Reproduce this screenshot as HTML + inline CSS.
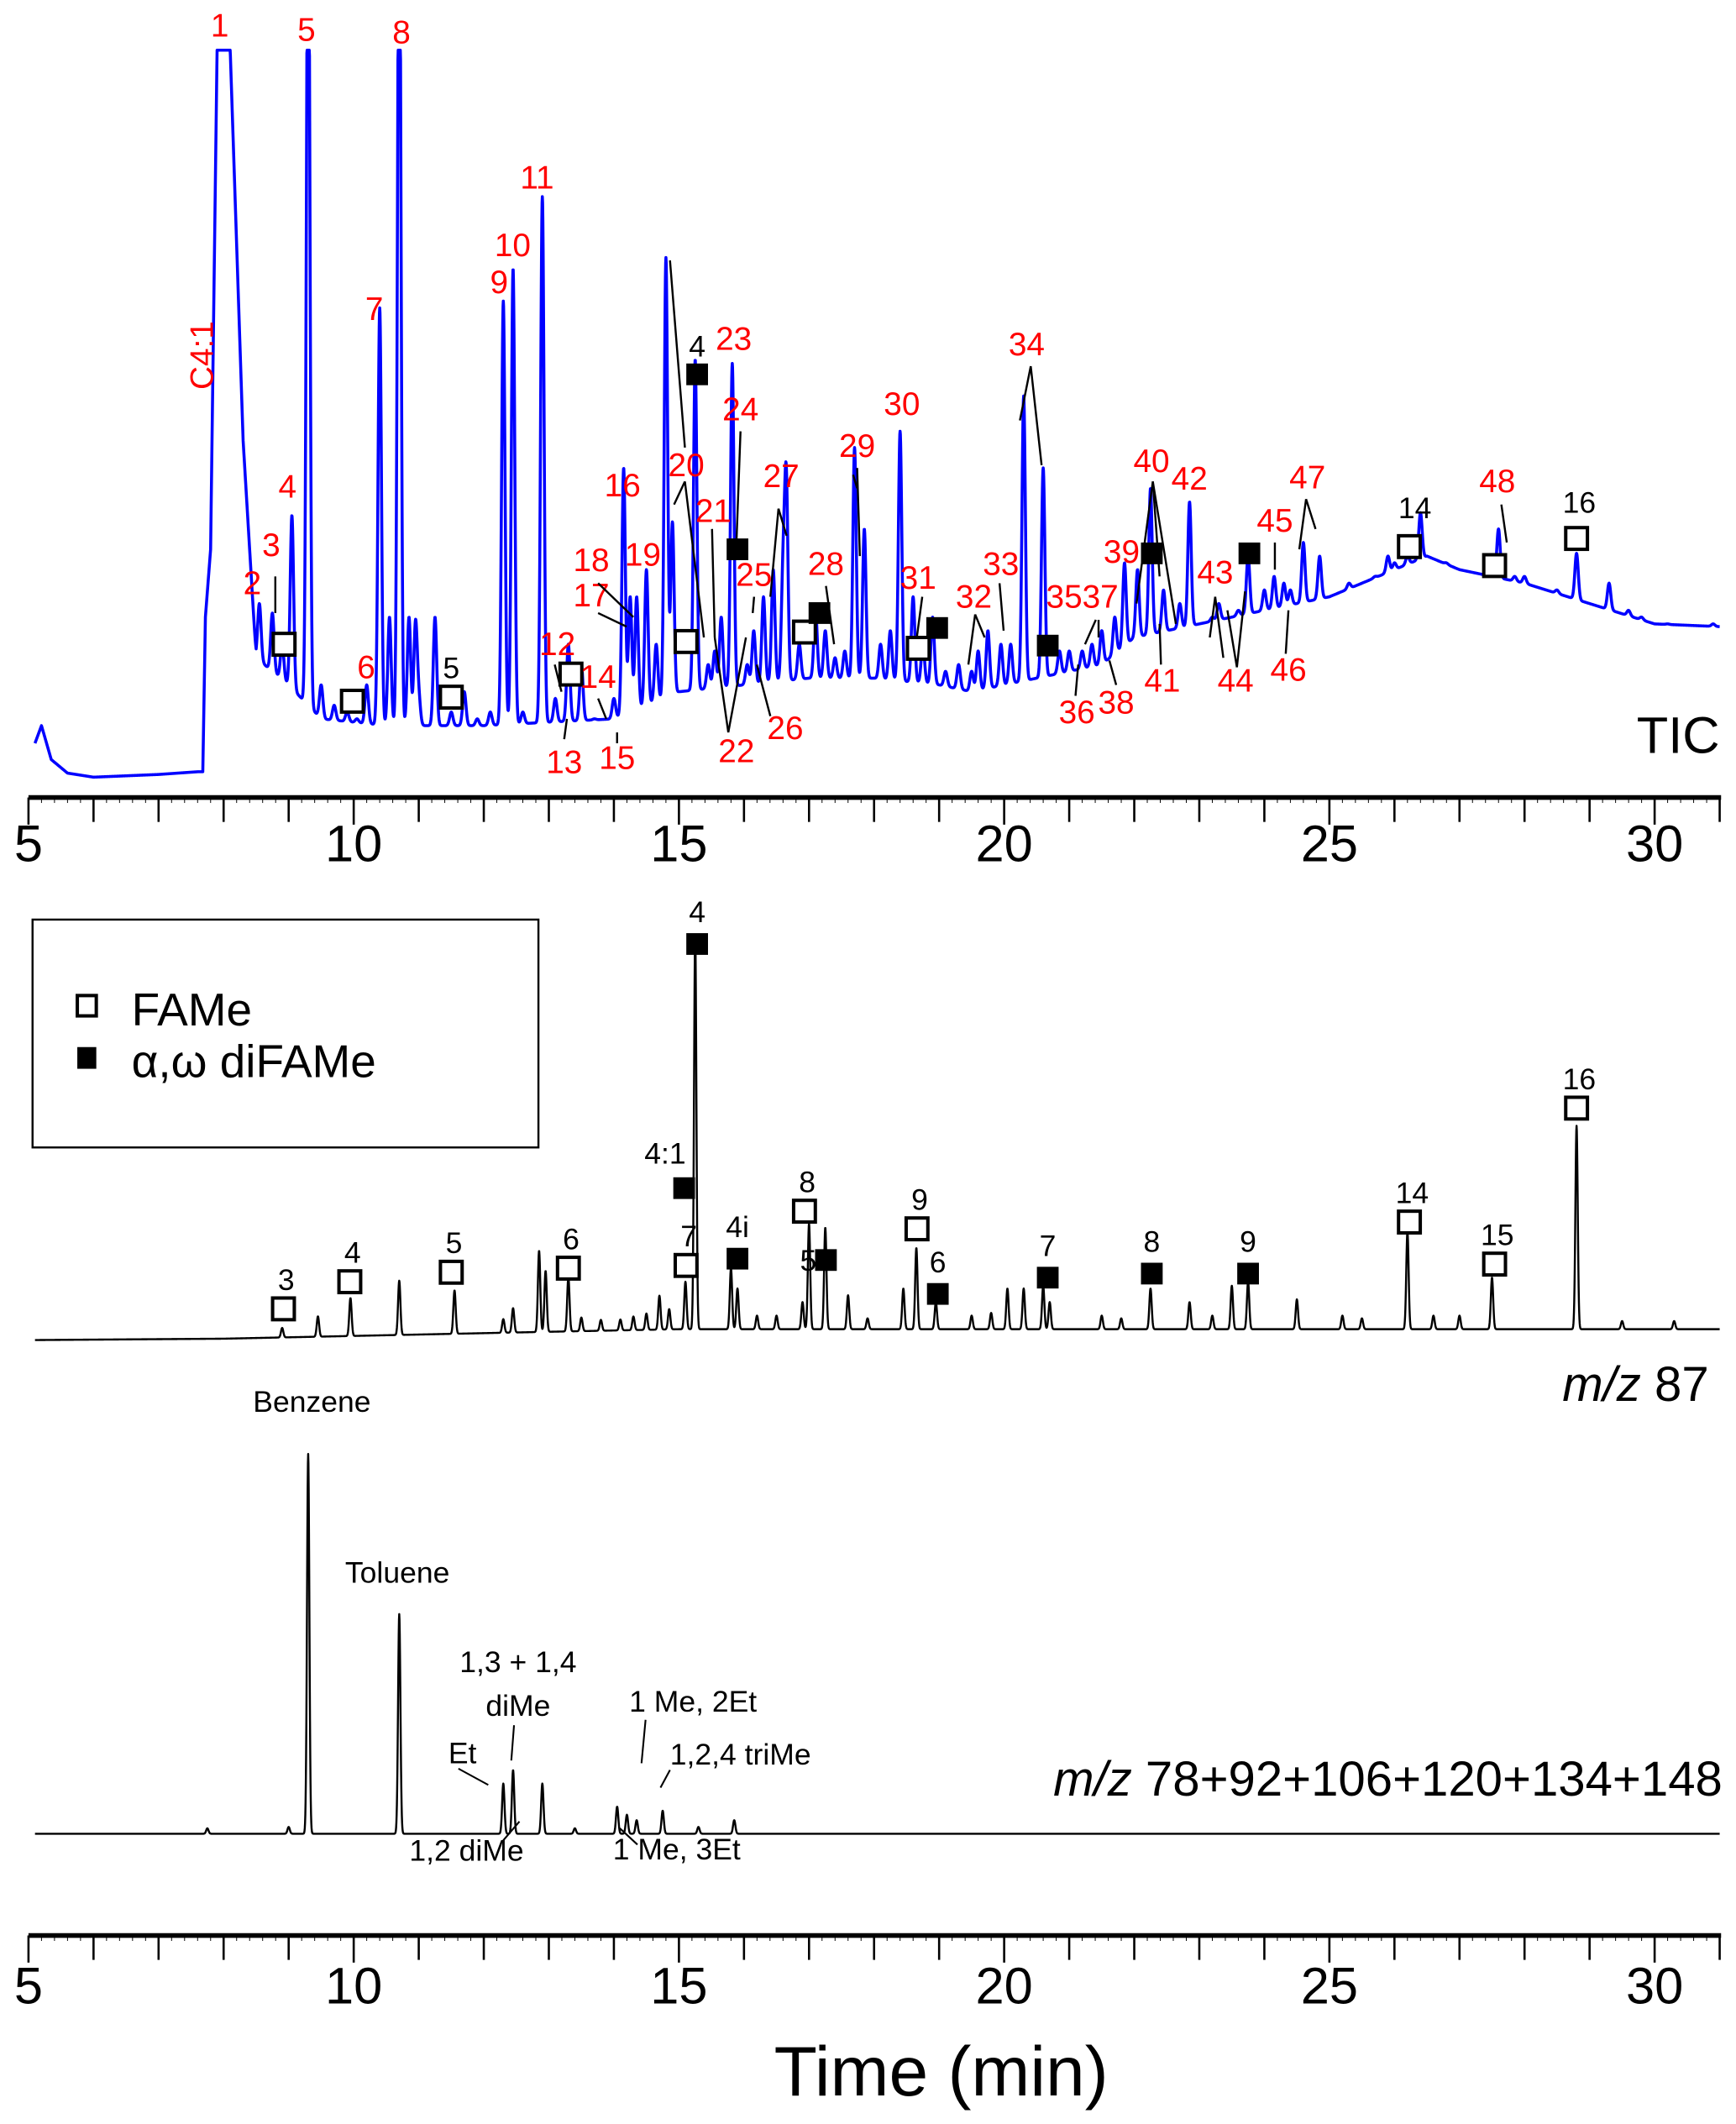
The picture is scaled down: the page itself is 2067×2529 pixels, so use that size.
<!DOCTYPE html>
<html><head><meta charset="utf-8"><style>
html,body{margin:0;padding:0;background:#fff}
svg{display:block}
text{font-family:"Liberation Sans",Arial,sans-serif}
</style></head><body>
<svg id="chart" width="2067" height="2529" viewBox="0 0 1280 1566" preserveAspectRatio="none" xmlns="http://www.w3.org/2000/svg">
<rect width="1280" height="1566" fill="#fff"/>
<g id="traces"></g>
<g id="axes"></g>
<g id="markers"></g>
<g id="labels" font-size="24" fill="#f00" text-anchor="middle"></g>
<g id="leaders" stroke="#000" stroke-width="1.5" fill="none"></g>

<text x="1268" y="555" font-size="38" text-anchor="end">TIC</text>
<text x="1260" y="1033" font-size="36" text-anchor="end"><tspan font-style="italic">m/z</tspan> 87</text>
<text x="1270" y="1324" font-size="36" text-anchor="end"><tspan font-style="italic">m/z</tspan> 78+92+106+120+134+148</text>

<g>
<rect x="24" y="678" width="373" height="168" fill="none" stroke="#000" stroke-width="1.5"/>
<rect x="57" y="734" width="14" height="15" fill="#fff" stroke="#000" stroke-width="2.5"/>
<text x="97" y="756" font-size="34">FAMe</text>
<rect x="57" y="772" width="14" height="16" fill="#000"/>
<text x="97" y="794" font-size="34">α,ω diFAMe</text>
</g>

<g font-size="22" fill="#000">
<text x="230" y="1041" text-anchor="middle">Benzene</text>
<text x="293" y="1167" text-anchor="middle">Toluene</text>
<text x="382" y="1233" text-anchor="middle">1,3 + 1,4</text>
<text x="382" y="1265" text-anchor="middle">diMe</text>
<text x="341" y="1300" text-anchor="middle">Et</text>
<text x="511" y="1262" text-anchor="middle">1 Me, 2Et</text>
<text x="546" y="1301" text-anchor="middle">1,2,4 triMe</text>
<text x="344" y="1372" text-anchor="middle">1,2 diMe</text>
<text x="499" y="1371" text-anchor="middle">1 Me, 3Et</text>
</g>
<g stroke="#000" stroke-width="1.3">
<line x1="338" y1="1304" x2="360" y2="1316"/>
<line x1="379" y1="1272" x2="377" y2="1298"/>
<line x1="476" y1="1268" x2="473" y2="1300"/>
<line x1="494" y1="1305" x2="487" y2="1318"/>
<line x1="383" y1="1343" x2="371" y2="1357"/>
<line x1="457" y1="1348" x2="470" y2="1360"/>
</g>
<text x="694" y="1545" font-size="52" text-anchor="middle">Time (min)</text>
</svg>
<script>
// ---------- data ----------
const ticBaseT = [5.1,5.2,5.35,5.6,6,7,7.6,7.68,7.72,7.8,7.9,8.1,8.3,8.5,9,9.5,10.5,12,14,14.5,15,16,17,18,19,19.5,20.5,21.5,22,23,24,25,26,26.5,27,28,29,30,31];
const ticBaseV = [27,40,15,5,2,4,6,6,120,170,540,540,250,90,70,45,40,40,45,55,65,70,75,75,70,65,75,85,105,115,125,135,155,165,155,145,130,115,113];
const ticPeakT = [8.55,8.75,8.9,9.05,9.3,9.5,9.7,9.9,10.05,10.2,10.4,10.55,10.7,10.85,10.95,11.0,11.25,11.5,11.7,11.9,12.1,12.3,12.45,12.6,12.9,13.1,13.3,13.5,13.7,13.9,14.0,14.15,14.25,14.35,14.5,14.65,14.8,14.9,15.05,15.25,15.45,15.55,15.65,15.82,16.05,16.15,16.3,16.45,16.6,16.65,16.85,17.1,17.25,17.4,17.55,17.7,17.85,18.1,18.25,18.4,18.6,18.75,18.9,19.1,19.3,19.5,19.6,19.75,19.95,20.1,20.3,20.6,20.85,21.0,21.2,21.35,21.5,21.7,21.85,22.05,22.25,22.45,22.6,22.7,22.85,23.1,23.2,23.3,23.5,23.6,23.75,23.9,24.0,24.15,24.3,24.4,24.6,24.85,25.1,25.3,25.5,25.7,25.9,26.0,26.2,26.4,26.6,26.8,27.0,27.15,27.3,27.45,27.6,27.85,28.0,28.3,28.5,28.8,29.0,29.3,29.6,29.8,30.0,30.2,30.5,30.7,30.9];
const ticPeakV = [130,123,100,195,700,70,55,50,45,70,348,120,700,120,115,60,120,50,65,45,50,353,377,50,430,60,100,85,45,40,60,230,135,135,155,100,385,190,60,310,85,95,120,307,85,110,135,155,150,220,100,125,110,90,95,245,185,100,110,257,135,100,120,80,85,80,95,110,100,100,283,230,95,95,95,100,110,120,160,155,215,140,110,130,205,85,120,130,110,125,165,120,140,150,145,140,175,165,130,145,125,150,165,160,165,197,140,160,135,150,140,155,185,150,150,120,140,167,130,145,125,120,110,115,110,112,115];
const mz87BaseT = [5.1,8,12.9,15,31];
const mz87BaseV = [2,3,8,10,10];
const mz87PeakT = [8.9,9.45,9.95,10.7,11.55,12.3,12.45,12.85,12.95,13.3,13.5,13.8,14.1,14.3,14.5,14.7,14.85,15.1,15.25,15.8,15.9,16.2,16.5,16.9,17.0,17.25,17.6,17.9,18.45,18.65,18.95,19.5,19.8,20.05,20.3,20.6,20.7,21.5,21.8,22.25,22.85,23.2,23.5,23.75,24.5,25.2,25.5,26.2,26.6,27.0,27.5,28.8,29.5,30.3];
const mz87PeakV = [7,15,28,40,32,10,18,60,45,40,10,8,8,10,12,25,15,35,292,45,30,10,10,20,78,75,25,8,30,60,20,10,12,30,30,32,20,10,8,30,20,10,32,35,22,10,8,72,10,10,38,150,6,6];
const mz78PeakT = [7.75,9.0,9.3,10.7,12.3,12.45,12.9,13.4,14.05,14.2,14.35,14.75,15.3,15.85];
const mz78PeakV = [4,5,280,162,37,47,37,4,20,14,10,17,5,10];
const xTicks = [5,10,15,20,25,30];
const ticLabels = ["1","5","8","7","9","10","11","4","3","2","6","12","14","13","15","16","18","17","19","20","21","22","23","24","25","26","27","28","29","30","31","32","33","34","3537","36","38","39","40","41","42","43","44","45","46","47","48"];
const ticLabelX = [162,226,296,276,368,378,396,212,200,186,270,411,441,416,455,459,436,436,474,506,526,543,541,546,556,579,576,609,632,665,677,718,738,757,798,794,823,827,849,857,877,896,911,940,950,964,1104];
const ticLabelY = [27,30,32,236,216,189,139,367,410,438,500,483,507,570,567,366,421,447,417,351,385,562,258,310,432,545,359,424,337,306,434,448,424,262,448,533,526,415,348,510,361,430,510,392,502,360,363];
const ticOpenT = [8.93,9.98,11.5,13.34,15.11,16.93,18.68,26.23,27.54,28.8];
const ticOpenY = [475,517,514,497,473,466,478,403,417,397];
const ticFilledT = [15.28,15.9,17.16,18.97,20.67,22.27,23.77];
const ticFilledY = [276,405,452,463,476,408,408];
const mzOpenT = [8.92,9.94,11.5,13.3,15.11,16.93,18.66,26.23,27.54,28.8];
const mzOpenY = [965,945,938,935,933,893,906,901,932,817];
const mzOpenLab = ["3","4","5","6","7","8","9","14","15","16"];
const mzFillT = [15.28,15.08,15.9,17.26,18.98,20.67,22.27,23.75];
const mzFillY = [696,876,928,929,954,942,939,939];
const mzFillLab = ["4","4:1","4i","5","6","7","8","9"];

// ---------- scales ----------
const X = t => 21 + (t - 5) * 47.96;
const NS = "http://www.w3.org/2000/svg";
function mk(tag, parent, attrs){const e=document.createElementNS(NS,tag);for(const k in attrs)e.setAttribute(k,attrs[k]);parent.appendChild(e);return e;}
function interp(ts, vs, t){ if(t<=ts[0])return vs[0]; for(let i=1;i<ts.length;i++){ if(t<=ts[i]){const f=(t-ts[i-1])/(ts[i]-ts[i-1]);return vs[i-1]+f*(vs[i]-vs[i-1]);} } return vs[vs.length-1]; }
function signal(bT,bV,pT,pV,sig,t,apexMode){
  let v = interp(bT,bV,t);
  for(let i=0;i<pT.length;i++){
    const h = apexMode ? Math.max(0,pV[i]-interp(bT,bV,pT[i])) : pV[i];
    const d=(t-pT[i])/sig; if(Math.abs(d)<6) v += h*Math.exp(-0.5*d*d);
  }
  return v;
}
const traces=document.getElementById('traces');
function drawTrace(name,color,lw,y0,bT,bV,pT,pV,sig,apex,clip,tStart){
  let d="";
  for(let t=tStart;t<=31.0001;t+=0.004){
    let v=signal(bT,bV,pT,pV,sig,t,apex); if(v>clip)v=clip;
    d+=(d?"L":"M")+X(t).toFixed(2)+","+(y0-v).toFixed(2);
  }
  const p=mk('path',traces,{d:d,fill:"none",stroke:color,"stroke-width":lw,"stroke-linejoin":"round"});
  
  
}
drawTrace('tic-trace','#0000ff',2.2,575,ticBaseT,ticBaseV,ticPeakT,ticPeakV,0.026,true,538,5.1);
drawTrace('mz87-trace','#000',1.5,990,mz87BaseT,mz87BaseV,mz87PeakT,mz87PeakV,0.018,false,1e9,5.1);
drawTrace('mz78-trace','#000',1.5,1352,[5.1,31],[0,0],mz78PeakT,mz78PeakV,0.018,false,1e9,5.1);

// ---------- axes ----------
const axes=document.getElementById('axes');
function drawAxis(name,y,labY){
  const g=mk('g',axes,{});
  
  
  mk('line',g,{x1:21,x2:1269,y1:y,y2:y,stroke:"#000","stroke-width":3.5});
  for(let t=5;t<=31;t++){ mk('line',g,{x1:X(t),x2:X(t),y1:y,y2:y+(t%5===0?20:18),stroke:"#000","stroke-width":1.6}); }
  for(let t=5;t<=31;t+=0.2){ mk('line',g,{x1:X(t),x2:X(t),y1:y,y2:y+4,stroke:"#000","stroke-width":0.6}); }
  xTicks.forEach(v=>{
    const tx=mk('text',g,{x:X(v),y:labY,"font-size":38,"text-anchor":"middle"}); tx.textContent=v;
    
    
  });
}
drawAxis('top-x-axis',588,635);
drawAxis('bottom-x-axis',1427,1477);

// ---------- markers ----------
const mg=document.getElementById('markers');
function sq(t,y,filled,name){
  const r=mk('rect',mg,{x:X(t)-8,y:y-8,width:16,height:16,fill:filled?"#000":"#fff",stroke:"#000","stroke-width":filled?0:2.5});
  
  
}
function blk(x,y,s,name){
  const tx=mk('text',mg,{x:x,y:y,"font-size":22,"text-anchor":"middle",fill:"#000"}); tx.textContent=s;
  
  
}
ticOpenT.forEach((t,i)=>sq(t,ticOpenY[i],false,'tic-fame-marker'));
ticFilledT.forEach((t,i)=>sq(t,ticFilledY[i],true,'tic-difame-marker'));
blk(X(11.5),500,"5",'tic-fame-label'); blk(X(15.28),263,"4",'tic-difame-label');
blk(X(26.23)+4,382,"14",'tic-fame-label'); blk(X(28.8)+2,378,"16",'tic-fame-label');
mzOpenT.forEach((t,i)=>{sq(t,mzOpenY[i],false,'mz87-fame-marker'); blk(X(t)+2,mzOpenY[i]-14,mzOpenLab[i],'mz87-fame-label');});
mzFillT.forEach((t,i)=>{sq(t,mzFillY[i],true,'mz87-difame-marker');
  let lx=X(t), ly=mzFillY[i]-16;
  if(mzFillLab[i]==="5"){lx=X(t)-13; ly=mzFillY[i]+8;}
  if(mzFillLab[i]==="4:1"){lx=X(t)-14; ly=mzFillY[i]-18;}
  blk(lx,ly,mzFillLab[i],'mz87-difame-label');});

// ---------- TIC peak labels ----------
const lg=document.getElementById('labels');
ticLabels.forEach((s,i)=>{
  const tx=mk('text',lg,{x:ticLabelX[i],y:ticLabelY[i]}); tx.textContent=s;
  
  
});
const c4=mk('text',lg,{x:0,y:0,transform:"translate(157,262) rotate(-90)"}); c4.textContent="C4:1";



// ---------- leader lines ----------
const ld=document.getElementById('leaders');
const leaderSegs=[[203,425,203,452],[494,192,505,330],[497,372,505,355],[505,355,519,470],[525,390,527,470],[537,540,527,470],[537,540,550,470],[546,318,543,400],[556,440,555,452],[568,528,558,490],[574,375,568,440],[574,375,580,395],[609,432,615,475],[629,350,632,360],[632,345,634,410],[680,440,676,470],[719,453,714,490],[719,453,726,470],[737,430,740,465],[760,270,752,310],[760,270,768,343],[808,457,800,475],[793,513,795,490],[823,505,818,487],[810,457,810,470],[850,355,838,445],[850,355,855,425],[850,355,867,460],[856,490,855,460],[896,440,902,485],[896,440,892,470],[912,492,905,450],[912,492,918,436],[940,400,940,420],[948,482,950,450],[963,368,958,405],[963,368,970,390],[1107,372,1111,400],[441,430,467,455],[441,452,462,462],[409,490,414,510],[441,515,447,530],[416,545,418,530],[455,548,455,540]];
leaderSegs.forEach(s=>{
  const l=mk('line',ld,{x1:s[0],y1:s[1],x2:s[2],y2:s[3]});
  
  
});
</script>
</body></html>
